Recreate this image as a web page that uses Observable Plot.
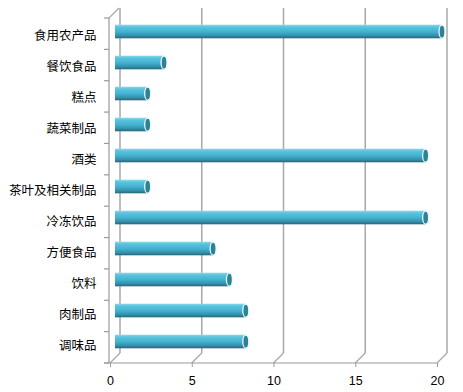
<!DOCTYPE html>
<html>
<head>
<meta charset="utf-8">
<script src="https://cdn.jsdelivr.net/npm/d3@7"></script>
<script src="https://cdn.jsdelivr.net/npm/@observablehq/plot@0.6"></script>
<style>
  html, body { margin: 0; padding: 0; background: #fff; }
</style>
</head>
<body>
<div id="chart"></div>
<script>
// Product categories (top to bottom) and their counts
const categories = ["食用农产品", "餐饮食品", "糕点", "蔬菜制品", "酒类", "茶叶及相关制品", "冷冻饮品", "方便食品", "饮料", "肉制品", "调味品"];
const values = [20, 3, 2, 2, 19, 2, 19, 6, 7, 8, 8];
const xTicks = [0, 5, 10, 15, 20];

const data = categories.map((category, i) => ({category, value: values[i]}));

// depth of the pseudo-3D box (back wall offset) and the bar offset (half depth)
const DX = 10, DY = 10;
const BAR_DX = 5, BAR_DY = -4;
const cjk = "'Noto Sans CJK SC', 'Liberation Sans', sans-serif";

// back wall grid, floor edges and the left wall axis
function walls(index, scales, values, dims) {
  const {x, y} = scales;
  const top = dims.marginTop, bottom = dims.height - dims.marginBottom;
  const left = x(0) - 1;
  const step = (bottom - top) / categories.length;
  const g = d3.create("svg:g").attr("fill", "none");

  const defs = g.append("defs");
  const grad = defs.append("linearGradient")
    .attr("id", "cyl").attr("x1", 0).attr("y1", 0).attr("x2", 0).attr("y2", 1);
  [[0, "#8fd8ea"], [0.18, "#58c3dd"], [0.5, "#44b3d2"], [0.78, "#3793ae"], [1, "#25667a"]]
    .forEach(([o, c]) => grad.append("stop").attr("offset", o).attr("stop-color", c));

  const line = (x1, y1, x2, y2, stroke = "#a8a8a8", w = 1.5) =>
    g.append("line").attr("x1", x1).attr("y1", y1).attr("x2", x2).attr("y2", y2)
      .attr("stroke", stroke).attr("stroke-width", w);

  for (const t of xTicks) {
    line(x(t) + DX, top - DY, x(t) + DX, bottom - DY);
    line(x(t), bottom, x(t) + DX, bottom - DY, "#a8a8a8", 1.2);
  }
  // front floor edge
  line(left - 5, bottom, x(20), bottom, "#999", 1.2);
  // left wall front edge and its top slant
  line(left, top, left, bottom, "#999", 1.2);
  line(left, top, left + DX, top - DY, "#a8a8a8", 1.2);
  // category boundary ticks
  for (let i = 0; i <= categories.length; ++i) {
    const yb = top + i * step;
    line(left - 5, yb, left, yb, "#999", 1.2);
  }
  return g.node();
}

// end caps of the cylinders
function caps(index, scales, values, dims) {
  const {x, y} = scales;
  const top = dims.marginTop, bottom = dims.height - dims.marginBottom;
  const step = (bottom - top) / categories.length;
  const g = d3.create("svg:g");
  for (const d of data) {
    g.append("ellipse")
      .attr("cx", x(d.value) + BAR_DX)
      .attr("cy", y(d.category) + step / 2 + BAR_DY)
      .attr("rx", 3).attr("ry", 6.5)
      .attr("fill", "#2f8196")
      .attr("stroke", "#eaf7fb").attr("stroke-width", 1.3);
  }
  return g.node();
}

const chart = Plot.plot({
  width: 463,
  height: 392,
  marginLeft: 110,
  marginRight: 26,
  marginTop: 18,
  marginBottom: 29,
  style: {fontFamily: "'Liberation Sans', 'Noto Sans CJK SC', sans-serif", fontSize: "12px", color: "#000", background: "#fff"},
  x: {domain: [0, 20], label: null},
  y: {domain: categories, padding: 0, label: null},
  marks: [
    walls,
    Plot.axisX(xTicks, {tickSize: 4, tickPadding: 9, stroke: "#999", fill: "#000", fontSize: 12.5, label: null}),
    Plot.axisY({tickSize: 0, tickPadding: 14, fill: "#000", fontSize: 12.5, fontFamily: cjk, label: null}),
    Plot.barX(data, {x: "value", y: "category", fill: "url(#cyl)", insetTop: 8.7, insetBottom: 8.7, dx: BAR_DX, dy: BAR_DY}),
    caps
  ]
});

document.getElementById("chart").appendChild(chart);
</script>
</body>
</html>
